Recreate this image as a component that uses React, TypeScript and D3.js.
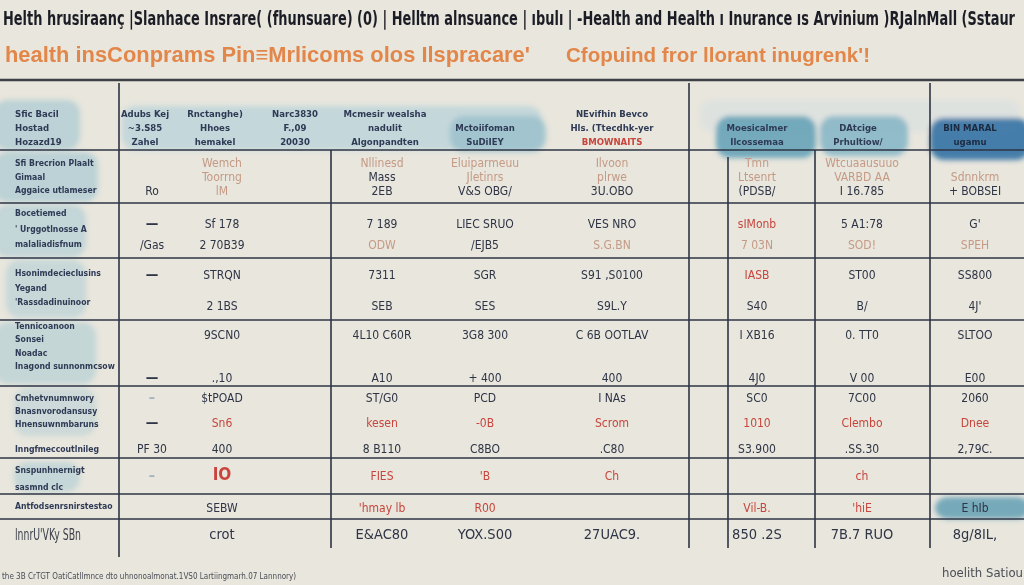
import React, { useEffect } from 'react';
import * as d3 from 'd3';

// ---- data ----
const titleTop =
  "Helth hrusiraanç |Slanhace Insrare( (fhunsuare) (0) | Helltm alnsuance | ıbulı | -Health and Health ı Inurance ıs Arvinium )RJalnMall (Sstaur";
const subtitleLeft = "health insConprams  Pin≡Mrlicoms olos Ilspracare'";
const subtitleRight = "Cfopuind fror llorant inugrenk'!";
const footNote = "the 3B CrTGT OatiCatIlmnce dto uhnonoalmonat.1VS0 Lartiingmarh.07 Lannnory)";
const sourceNote = "hoelith Satiou";

const headerCorner = ["Sfic Bacil", "Hostad", "Hozazd19"];
const headerCols = [
  ["Adubs Kej", "~3.S85", "Zahel"],
  ["Rnctanghe)", "Hhoes", "hemakel"],
  ["Narc3830", "F.,09", "20030"],
  ["Mcmesir wealsha", "nadulit", "Algonpandten"],
  ["", "Mctoiifoman", "SuDiIEY"],
  ["NEvifhin Bevco", "Hls. (Ttecdhk-yer", "BMOWNAITS"],
  ["", "Moesicalmer", "Ilcossemaa"],
  ["", "DAtcige", "Prhultiow/"],
  ["", "BIN MARAL", "ugamu"],
];

const rowLabels = [
  ["Sfi Brecrion  Plaalt", "Gimaal", "Aggaice utlameser"],
  ["Bocetiemed", "' Urggotlnosse A", "malaliadisfnum"],
  ["Hsonimdecieclusins", "Yegand", "'Rassdadinuinoor"],
  ["Tennicoanoon", "Sonsei", "Noadac", "Inagond sunnonmcsow"],
  ["Cmhetvnumnwory", "Bnasnvorodansusy", "Hnensuwnmbaruns"],
  ["Inngfmeccoutlnileg"],
  ["Snspunhnernigt", "sasmnd clc"],
  ["Antfodsenrsnirstestao"],
  ["lnnrU'VKy SBn"],
];

const row1 = [
  ["", "", "Ro"],
  ["Wemch", "Toorrng", "lM"],
  ["Nllinesd", "Mass", "2EB"],
  ["Eluiparmeuu", "Jletinrs", "V&S OBG/"],
  ["Ilvoon", "plrwe", "3U.OBO"],
  ["Tmn", "Ltsenrt", "(PDSB/"],
  ["Wtcuaausuuo", "VARBD AA", "I 16.785"],
  ["", "Sdnnkrm", "+ BOBSEI"],
];
const row2 = [
  ["—", "/Gas"],
  ["Sf 178", "2 70B39"],
  ["7 189", "ODW"],
  ["LIEC SRUO", "/EJB5"],
  ["VES NRO", "S.G.BN"],
  ["sIMonb", "7 03N"],
  ["5 A1:78", "SOD!"],
  ["G'", "SPEH"],
];
const row3 = [
  ["—", ""],
  ["STRQN", "2 1BS"],
  ["7311", "SEB"],
  ["SGR", "SES"],
  ["S91 ,S0100", "S9L.Y"],
  ["IASB", "S40"],
  ["ST00", "B/"],
  ["SS800", "4J'"],
];
const row4 = [
  ["", "—"],
  ["9SCN0", ".,10"],
  ["4L10 C60R", "A10"],
  ["3G8 300", "+ 400"],
  ["C 6B OOTLAV", "400"],
  ["I XB16", "4J0"],
  ["0. TT0", "V 00"],
  ["SLTOO", "E00"],
];
const row5 = [
  ["–", "—"],
  ["$tPOAD", "Sn6"],
  ["ST/G0", "kesen"],
  ["PCD", "-0B"],
  ["I NAs", "Scrom"],
  ["SC0", "1010"],
  ["7C00", "Clembo"],
  ["2060", "Dnee"],
];
const row6 = [["PF 30"], ["400"], ["8 B110"], ["C8BO"], [".C80"], ["S3.900"], [".SS.30"], ["2,79C."]];
const row7 = [["–"], ["IO"], ["FIES"], ["'B"], ["Ch"], [""], ["ch"], [""]];
const row8 = [[""], ["SEBW"], ["'hmay lb"], ["R00"], [""], ["Vil-B."], ["'hiE"], ["E hIb"]];
const row9 = [[""], ["crot"], ["E&AC80"], ["YOX.S00"], ["27UAC9."], ["850 .2S"], ["7B.7 RUO"], ["8g/8IL,"]];
const rows = [row1, row2, row3, row4, row5, row6, row7, row8, row9];

// cell tones, keyed "row:col:line"
const redCells = [
  "1:5:0", "2:5:0",
  "4:1:1", "4:2:1", "4:3:1", "4:4:1", "4:5:1", "4:6:1", "4:7:1",
  "6:1:0", "6:2:0", "6:3:0", "6:4:0", "6:6:0",
  "7:2:0", "7:3:0", "7:5:0", "7:6:0",
];
const paleCells = [
  "0:1:0", "0:1:1", "0:1:2", "0:2:0", "0:3:0", "0:3:1", "0:4:0", "0:4:1",
  "0:5:0", "0:5:1", "0:6:0", "0:6:1", "0:7:1",
  "1:2:1", "1:4:1", "1:5:1", "1:6:1", "1:7:1",
];

// ---- layout ----
const W = 1024;
const H = 585;
const FONT = "'Liberation Sans Narrow', 'DejaVu Sans Condensed', 'Roboto Condensed', sans-serif";
const colCenters = [152, 222, 382, 485, 612, 757, 862, 975];
const headerCenters = [145, 215, 295, 385, 485, 612, 757, 858, 970];
const hLines = [150, 203, 258, 320, 386, 458, 494, 519];
const vLines = [
  { x: 119, y0: 83, y1: 557 },
  { x: 331, y0: 150, y1: 548 },
  { x: 689, y0: 83, y1: 548 },
  { x: 728, y0: 157, y1: 548 },
  { x: 815, y0: 150, y1: 548 },
  { x: 930, y0: 83, y1: 548 },
];
const cellSlots: [number, number][] = [
  [163, 191], [224, 245], [275, 306], [335, 378], [398, 423], [449, 449], [476, 476], [508, 508], [534, 534],
];
const labelSlots: [number, number][] = [
  [163, 190], [213, 244], [273, 302], [326, 366], [398, 424], [449, 449], [470, 487], [506, 506], [534, 534],
];
const headerSlots: [number, number] = [114, 142];

const washes = [
  { x: -6, y: 100, w: 86, h: 50, c: '#aecbd3', o: 0.75 },
  { x: -6, y: 152, w: 104, h: 50, c: '#aecbd3', o: 0.75 },
  { x: -6, y: 205, w: 92, h: 52, c: '#b3cfd6', o: 0.7 },
  { x: 6, y: 260, w: 80, h: 58, c: '#b3cfd6', o: 0.6 },
  { x: -6, y: 322, w: 102, h: 62, c: '#aecbd3', o: 0.6 },
  { x: 14, y: 388, w: 82, h: 48, c: '#b6d0d6', o: 0.55 },
  { x: 14, y: 462, w: 66, h: 30, c: '#b6d0d6', o: 0.7 },
  { x: 122, y: 106, w: 420, h: 44, c: '#b8d2d9', o: 0.75 },
  { x: 450, y: 116, w: 96, h: 36, c: '#97bfca', o: 0.8 },
  { x: 700, y: 100, w: 320, h: 32, c: '#d8dfdf', o: 0.7 },
  { x: 716, y: 116, w: 100, h: 42, c: '#66a3b8', o: 0.9 },
  { x: 820, y: 116, w: 88, h: 40, c: '#88b7c7', o: 0.9 },
  { x: 930, y: 118, w: 100, h: 42, c: '#3c77a6', o: 0.95 },
  { x: 935, y: 497, w: 95, h: 22, c: '#6aa3b6', o: 0.9 },
];

const INK = '#2e3445';
const RED = '#c8453c';
const PALE = '#c59a85';

export default function App() {
  useEffect(() => {
    document.body.style.margin = '0';
  }, []);

  const xCol = d3.scaleOrdinal<number, number>().domain(d3.range(colCenters.length)).range(colCenters);
  const xHead = d3.scaleOrdinal<number, number>().domain(d3.range(headerCenters.length)).range(headerCenters);
  const slotScale = (range: [number, number], n: number) =>
    d3.scalePoint<number>().domain(d3.range(n)).range(range);
  const yHead = slotScale(headerSlots, 3);

  const red = new Set(redCells);
  const pale = new Set(paleCells);

  return (
    <svg width={W} height={H} style={{ display: 'block', background: '#e8e6dd' }} fontFamily={FONT}>
      <defs>
        <filter id="wash" x="-20%" y="-30%" width="140%" height="160%">
          <feGaussianBlur stdDeviation="2.5" />
        </filter>
        <filter id="soft">
          <feGaussianBlur stdDeviation="0.35" />
        </filter>
      </defs>
      <rect width={W} height={H} fill="#e8e6dd" />

      {/* watercolor washes */}
      <g filter="url(#wash)">
        {washes.map((b, i) => (
          <rect key={i} x={b.x} y={b.y} width={b.w} height={b.h} rx={14} fill={b.c} opacity={b.o} />
        ))}
      </g>

      {/* titles */}
      <g filter="url(#soft)">
        <text
          transform="translate(3,25) scale(1,1.3)"
          fontSize={14.3}
          fontWeight={700}
          fill="#1d1f26"
          textLength={1012}
          lengthAdjust="spacingAndGlyphs"
        >
          {titleTop}
        </text>
        <text
          x={5}
          y={62}
          fontSize={22}
          fontWeight={600}
          fontFamily="'Liberation Sans', 'DejaVu Sans', sans-serif"
          fill="#e2874a"
          textLength={525}
          lengthAdjust="spacingAndGlyphs"
        >
          {subtitleLeft}
        </text>
        <text
          x={566}
          y={62}
          fontSize={21}
          fontWeight={600}
          fontFamily="'Liberation Sans', 'DejaVu Sans', sans-serif"
          fill="#e2874a"
          textLength={304}
          lengthAdjust="spacingAndGlyphs"
        >
          {subtitleRight}
        </text>
      </g>

      {/* grid */}
      <line x1={0} x2={W} y1={80} y2={80} stroke="#3d3f44" strokeWidth={2.5} />
      {hLines.map((y) => (
        <line key={y} x1={0} x2={W} y1={y} y2={y} stroke={INK} strokeWidth={1.6} />
      ))}
      {vLines.map((v) => (
        <line key={v.x} x1={v.x} x2={v.x} y1={v.y0} y2={v.y1} stroke={INK} strokeWidth={1.6} />
      ))}

      <g filter="url(#soft)">
        {/* header */}
        {headerCorner.map((t, i) => (
          <text key={i} x={15} y={yHead(i)! + 3} fontSize={9.5} fontWeight={700} fill="#2f3a55">
            {t}
          </text>
        ))}
        {headerCols.map((lines, c) =>
          lines.map((t, i) => (
            <text
              key={`${c}-${i}`}
              x={xHead(c)}
              y={yHead(i)! + 3}
              fontSize={9.5}
              fontWeight={700}
              textAnchor="middle"
              fill={c === 5 && i === 2 ? RED : c === 8 ? '#1d2a40' : '#2f3a55'}
            >
              {t}
            </text>
          ))
        )}

        {/* row labels */}
        {rowLabels.map((lines, r) => {
          const y = slotScale(labelSlots[r], lines.length);
          const last = r === rowLabels.length - 1;
          return lines.map((t, i) => (
            <text
              key={`l${r}-${i}`}
              x={15}
              y={y(i)! + (last ? 6 : 3)}
              fontSize={last ? 16 : 8.6}
              fontWeight={last ? 400 : 700}
              fill={last ? '#3b3f4a' : '#2f3a55'}
              textLength={last ? 66 : undefined}
              lengthAdjust="spacingAndGlyphs"
            >
              {t}
            </text>
          ));
        })}

        {/* cells */}
        {rows.map((row, r) => {
          const n = row[0].length;
          const y = slotScale(cellSlots[r], n);
          return row.map((lines, c) =>
            lines.map((t, i) => {
              const key = `${r}:${c}:${i}`;
              const big = r === 6 && c === 1;
              const dash = c === 0 && (t === '—' || t === '–');
              const fill = red.has(key) ? RED : pale.has(key) ? PALE : dash && (r === 6 || t === '–') ? '#9fb4bf' : INK;
              return (
                <text
                  key={key}
                  x={xCol(c)}
                  y={y(i)! + (r === 8 ? 5 : 4)}
                  fontSize={big ? 17 : r === 8 ? 14.5 : dash ? 14 : 12}
                  fontWeight={dash || big ? 700 : 400}
                  textAnchor="middle"
                  fill={fill}
                >
                  {t}
                </text>
              );
            })
          );
        })}

        {/* footnotes */}
        <text x={2} y={579} fontSize={8} fill="#4a4d55">
          {footNote}
        </text>
        <text x={W - 1} y={577} fontSize={13} textAnchor="end" fill="#4a4d55">
          {sourceNote}
        </text>
      </g>
    </svg>
  );
}
